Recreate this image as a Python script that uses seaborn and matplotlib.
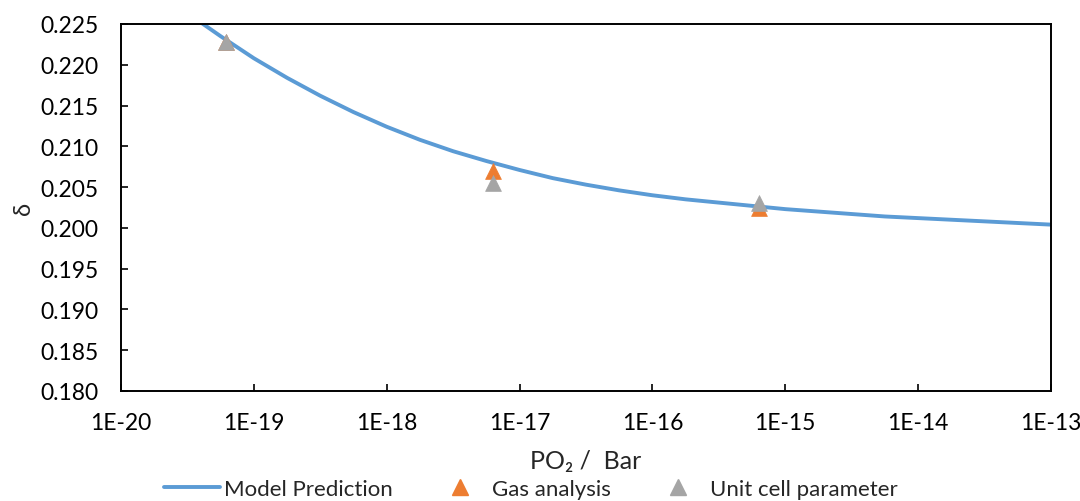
import numpy as np
import pandas as pd
import matplotlib
matplotlib.use("Agg")
import matplotlib.pyplot as plt
import matplotlib.ticker as mticker
from matplotlib.lines import Line2D
import seaborn as sns

# Model prediction curve (log10 pO2 in bar, delta)
model_logp = [-19.4, -19.25, -19.0, -18.75, -18.5, -18.25, -18.0, -17.75, -17.5, -17.25,
              -17.0, -16.75, -16.5, -16.25, -16.0, -15.75, -15.5, -15.25, -15.0,
              -14.75, -14.5, -14.25, -14.0, -13.75, -13.5, -13.25, -13.0]
model_delta = [0.2252, 0.2235, 0.2208, 0.2184, 0.2162, 0.2142, 0.2124, 0.2108, 0.2094, 0.2082,
               0.2071, 0.2061, 0.2053, 0.2046, 0.2040, 0.2035, 0.2031, 0.2027, 0.2023,
               0.2020, 0.2017, 0.2014, 0.2012, 0.2010, 0.2008, 0.2006, 0.2004]

# Measurements
meas_p = [6.2e-20, 6.3e-18, 6.3e-16]
gas_delta = [0.2228, 0.2070, 0.2025]
cell_delta = [0.2228, 0.2055, 0.2030]

x_ticks = [1e-20, 1e-19, 1e-18, 1e-17, 1e-16, 1e-15, 1e-14, 1e-13]
x_ticklabels = ["1E-20", "1E-19", "1E-18", "1E-17", "1E-16", "1E-15", "1E-14", "1E-13"]
y_ticks = [0.180, 0.185, 0.190, 0.195, 0.200, 0.205, 0.210, 0.215, 0.220, 0.225]

BLUE = "#5B9BD5"
ORANGE = "#ED7D31"
GREY = "#A5A5A5"

sns.set_style("white")
plt.rcParams["font.family"] = ["Lato", "DejaVu Sans"]

fig = plt.figure(figsize=(10.8, 5.02), dpi=100)
ax = fig.add_axes([121 / 1080, 1 - 392 / 502, 930 / 1080, 367 / 502])

model_df = pd.DataFrame({"p": [10.0 ** v for v in model_logp], "delta": model_delta})
gas_df = pd.DataFrame({"p": meas_p, "delta": gas_delta})
cell_df = pd.DataFrame({"p": meas_p, "delta": cell_delta})

sns.lineplot(data=model_df, x="p", y="delta", ax=ax, color=BLUE, linewidth=2.8,
             sort=True, estimator=None, zorder=2)
sns.scatterplot(data=gas_df, x="p", y="delta", ax=ax, marker="^", s=130,
                color=ORANGE, edgecolor=ORANGE, linewidth=0.5, zorder=3, clip_on=False)
sns.scatterplot(data=cell_df, x="p", y="delta", ax=ax, marker="^", s=130,
                color=GREY, edgecolor=GREY, linewidth=0.5, zorder=4, clip_on=False)

ax.set_xscale("log")
ax.set_xlim(1e-20, 1e-13)
ax.set_ylim(0.180, 0.225)
ax.set_xticks(x_ticks)
ax.set_xticklabels(x_ticklabels)
ax.xaxis.set_minor_locator(mticker.NullLocator())
ax.set_yticks(y_ticks)
ax.set_yticklabels([f"{v:.3f}" for v in y_ticks])

for s in ax.spines.values():
    s.set_visible(True)
    s.set_color("black")
    s.set_linewidth(1.4)

ax.tick_params(axis="both", which="major", direction="in", length=5, width=1.2,
               labelsize=16.5, colors="black")
ax.tick_params(axis="x", bottom=True, pad=15)
ax.tick_params(axis="y", left=True, pad=16)

ax.set_xlabel("PO\u2082 /  Bar", fontsize=18, labelpad=12)
ax.set_ylabel("\u03b4", fontsize=17, labelpad=5)
ax.grid(False)

handles = [
    Line2D([0], [0], color=BLUE, linewidth=2.8),
    Line2D([0], [0], color=ORANGE, marker="^", linestyle="none", markersize=11),
    Line2D([0], [0], color=GREY, marker="^", linestyle="none", markersize=11),
]
labels = ["Model Prediction", "Gas analysis", "Unit cell parameter"]
fig.legend(handles, labels, loc="center", bbox_to_anchor=(531 / 1080, 1 - 490 / 502),
           ncol=3, frameon=False, fontsize=16, handlelength=2.5, columnspacing=1.75,
           handletextpad=0.2, borderpad=0)

fig.savefig("out.png", dpi=100)
